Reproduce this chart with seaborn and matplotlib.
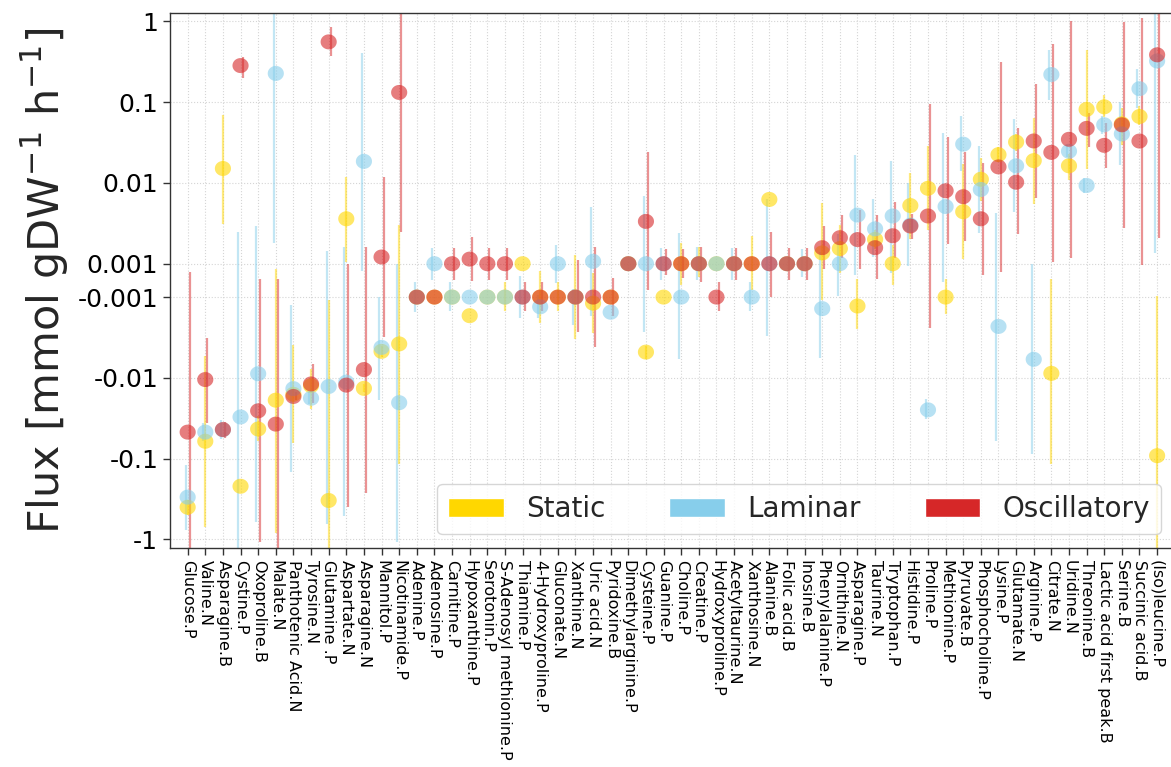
"""
Metabolite flux per condition on a symlog axis
"""

import numpy as np
import pandas as pd
import matplotlib
matplotlib.use("Agg")
import matplotlib.pyplot as plt
import seaborn as sns
from matplotlib.patches import Patch
from matplotlib.ticker import NullLocator


metabolites = [
    "Glucose.P", "Valine.N", "Asparagine.B", "Cystine.P", "Oxoproline.B",
    "Malate.N", "Panthotenic Acid.N", "Tyrosine.N", "Glutamine .P",
    "Aspartate.N", "Asparagine.N", "Mannitol.P", "Nicotinamide.P",
    "Adenine.P", "Adenosine.P", "Carnitine.P", "Hypoxanthine.P",
    "Serotonin.P", "S-Adenosyl methionine.P", "Thiamine.P",
    "4-Hydroxyproline.P", "Gluconate.N", "Xanthine.N", "Uric acid.N",
    "Pyridoxine.B", "Dimethylarginine.P", "Cysteine.P", "Guanine.P",
    "Choline.P", "Creatine.P", "Hydroxyproline.P", "Acetyltaurine.N",
    "Xanthosine.N", "Alanine.B", "Folic acid.B", "Inosine.B",
    "Phenylalanine.P", "Ornithine.N", "Asparagine.P", "Taurine.N",
    "Tryptophan.P", "Histidine.P", "Proline.P", "Methionine.P",
    "Pyruvate.B", "Phosphocholine.P", "Lysine.P", "Glutamate.N",
    "Arginine.P", "Citrate.N", "Uridine.N", "Threonine.B",
    "Lactic acid first peak.B", "Serine.B", "Succinic acid.B",
    "(Iso)leucine.P",
]

# mean flux and error bar bounds [mmol gDW-1 h-1]
static = [-0.40, -0.061, 0.0151, -0.22, -0.043, -0.0189, -0.016, -0.0125, -0.33,
          0.0036, -0.0135, -0.0047, -0.0038, -0.001, -0.001, -0.001, -0.0017,
          -0.001, -0.001, 0.001, -0.001, -0.001, -0.001, -0.00119, -0.001, 0.001,
          -0.0048, -0.001, 0.001, 0.001, 0.001, 0.001, 0.001, 0.00625, 0.001,
          0.001, 0.00136, 0.00154, -0.00129, 0.002, 0.001, 0.00525, 0.00858,
          -0.001, 0.0044, 0.0111, 0.0224, 0.0321, 0.0189, -0.0088, 0.0163,
          0.0815, 0.0876, 0.054, 0.0665, -0.092]
static_lo = [-0.50, -0.71, 0.0031, -0.22, -0.06, -0.83, -0.064, -0.024, -2.0,
             0.00105, -0.015, -0.0055, -0.116, -0.001, -0.001, -0.001, -0.0017,
             -0.001, -0.0015, 0.001, -0.0021, -0.0015, -0.0033, -0.0028, -0.001,
             0.001, -0.0058, -0.001, -0.00029, 0.0002, 0.001, 0.001, -0.0006,
             0.00625, 0.001, 0.001, -0.0011, 0.00046, -0.0025, 0.0015, -0.00029,
             0.002, 0.0026, -0.0016, 0.00114, 0.006, 0.018, 0.025, 0.0055,
             -0.118, 0.011, 0.0147, 0.066, 0.0292, 0.0515, -2.0]
static_hi = [-0.33, -0.0054, 0.07, -0.22, -0.03, 0.00068, -0.0039, -0.0077, -0.0011,
             0.012, -0.012, -0.004, 0.003, -0.001, -0.001, -0.001, -0.0017,
             -0.001, -0.0001, 0.001, 0.00058, -0.0001, 0.0013, 0.00046, -0.001,
             0.001, -0.004, -0.001, 0.0018, 0.0016, 0.001, 0.001, 0.0022,
             0.00625, 0.001, 0.001, 0.0057, 0.003, 0.00008, 0.0026, 0.0017,
             0.0132, 0.0283, 0.00008, 0.0171, 0.0205, 0.028, 0.04, 0.063,
             0.00008, 0.0226, 0.44, 0.123, 0.0855, 0.09, -0.00094]

laminar = [-0.30, -0.047, -0.044, -0.0305, -0.0089, 0.227, -0.0136, -0.0179,
           -0.0128, -0.0113, 0.0185, -0.0042, -0.0203, -0.001, 0.001, -0.001,
           -0.001, -0.001, -0.001, -0.001, -0.00132, 0.001, -0.001, 0.00107,
           -0.00154, 0.001, 0.001, 0.001, -0.001, 0.001, 0.001, 0.001, -0.001,
           0.001, 0.001, 0.001, -0.00139, 0.001, 0.004, 0.0027, 0.0039, 0.003,
           -0.0249, 0.0051, 0.0302, 0.0083, -0.00231, 0.0163, -0.0059, 0.22,
           0.0247, 0.0093, 0.0525, 0.0405, 0.147, 0.324]
laminar_lo = [-0.77, -0.06, -0.058, -2.0, -0.61, 0.0018, -0.146, -0.021, -0.64,
              -0.52, 0.00057, -0.0188, -1.07, -0.00154, 0.00003, -0.0015,
              -0.001, -0.001, -0.001, -0.0018, -0.0018, -0.00018, -0.0022,
              -0.0017, -0.00154, 0.001, -0.0027, 0.00003, -0.0058, 0.0, 0.001,
              0.00003, -0.0015, -0.003, 0.001, 0.0002, -0.0057, -0.00093,
              0.00035, 0.0012, 0.00046, 0.00089, -0.032, -0.00008, 0.0139,
              0.0024, -0.06, 0.0044, -0.088, 0.107, 0.0208, 0.0075, 0.04,
              0.0166, 0.0855, 0.00136]
laminar_hi = [-0.12, -0.036, -0.033, 0.0025, 0.0029, 2.0, -0.00125, -0.015, 0.00143,
              0.00159, 0.406, -0.001, 0.001, -0.000075, 0.00155, -0.0001,
              -0.001, -0.001, -0.001, 0.00025, -0.00086, 0.0017, -0.0005, 0.005,
              -0.00154, 0.001, 0.0068, 0.00155, 0.0024, 0.0016, 0.001, 0.00155,
              -0.0001, 0.00625, 0.001, 0.0015, 0.0014, 0.0023, 0.022, 0.0063,
              0.0188, 0.01, -0.0185, 0.042, 0.0665, 0.0284, 0.0043, 0.062, 0.001,
              0.44, 0.0294, 0.0115, 0.067, 0.1, 0.256, 2.0]

oscillatory = [-0.047, -0.0105, -0.0437, 0.284, -0.0256, -0.0374, -0.017, -0.0119,
               0.558, -0.0123, -0.0079, 0.00121, 0.132, -0.001, -0.001, 0.001,
               0.00114, 0.001, 0.001, -0.001, -0.001, -0.001, -0.001, -0.001,
               -0.001, 0.001, 0.00334, 0.001, 0.001, 0.001, -0.001, 0.001, 0.001,
               0.001, 0.001, 0.001, 0.00158, 0.0021, 0.00199, 0.00158, 0.00222,
               0.00293, 0.0039, 0.008, 0.00676, 0.0036, 0.0158, 0.0102, 0.0331,
               0.0239, 0.0347, 0.0474, 0.0292, 0.0525, 0.033, 0.386]
oscillatory_lo = [-2.0, -0.036, -0.055, 0.2, -1.07, -2.0, -0.019, -0.0205, 0.37,
                  -0.4, -0.27, -0.0031, 0.00244, -0.001, -0.001, 0.00003,
                  -0.00003, 0.00003, 0.00003, -0.0015, -0.0015, -0.001, -0.0027,
                  -0.0041, -0.0017, 0.001, -0.00057, 0.00035, 0.00014, -0.0001,
                  -0.0015, 0.00003, 0.001, -0.001, 0.00003, 0.00003, 0.00068,
                  0.00116, 0.00068, 0.00008, 0.00116, 0.002, -0.0024, 0.00176,
                  0.0019, 0.00031, 0.0005, 0.0023, 0.0065, 0.00105, 0.00116,
                  0.0278, 0.0154, 0.0028, 0.00095, 0.0021]
oscillatory_hi = [0.0005, -0.0032, -0.035, 0.36, 0.000075, 0.000075, -0.015, -0.0068,
                  0.85, 0.001, 0.00162, 0.0117, 2.0, -0.001, -0.001, 0.00155,
                  0.00215, 0.00155, 0.00155, -0.0001, -0.0001, -0.001, 0.0011,
                  0.00162, 0.00012, 0.001, 0.0244, 0.0015, 0.0015, 0.0016,
                  -0.0001, 0.00155, 0.001, 0.0025, 0.00155, 0.00155, 0.0029,
                  0.004, 0.0046, 0.004, 0.0058, 0.0041, 0.095, 0.037, 0.0239,
                  0.0176, 0.315, 0.048, 0.167, 0.53, 1.02, 0.073, 0.056, 0.98,
                  1.1, 2.0]

conditions = ["Static", "Laminar", "Oscillatory"]
palette = {"Static": "#FFD700", "Laminar": "#87CEEB", "Oscillatory": "#D62728"}
err_shift = {"Static": 0.0, "Laminar": -0.12, "Oscillatory": 0.12}

series = {
    "Static": (static, static_lo, static_hi),
    "Laminar": (laminar, laminar_lo, laminar_hi),
    "Oscillatory": (oscillatory, oscillatory_lo, oscillatory_hi),
}

frames = []
for cond in conditions:
    mean, lo, hi = series[cond]
    frames.append(pd.DataFrame({
        "pos": np.arange(len(metabolites)),
        "metabolite": metabolites,
        "condition": cond,
        "flux": mean,
        "lo": lo,
        "hi": hi,
    }))
df = pd.concat(frames, ignore_index=True)

sns.set_style("ticks")

fig = plt.figure(figsize=(11.71, 7.67), dpi=100)
ax = fig.add_axes([0.1452, 0.2855, 0.858, 0.6975])

# error bars first, points on top
for cond in conditions:
    sub = df[df["condition"] == cond]
    ax.vlines(sub["pos"] + err_shift[cond], sub["lo"], sub["hi"],
              color=palette[cond], alpha=0.5, linewidth=1.6, zorder=2)

t = np.linspace(0, 2 * np.pi, 60)
ellipse = np.column_stack([np.cos(t), 0.93 * np.sin(t)])

sns.scatterplot(data=df, x="pos", y="flux", hue="condition",
                hue_order=conditions, palette=palette, marker=ellipse,
                s=135, alpha=0.6, linewidth=0, edgecolor="none",
                legend=False, ax=ax, zorder=3)

ax.set_yscale("symlog", linthresh=1e-3, linscale=0.186)
ax.set_ylim(-1.28, 1.27)
ax.set_xlim(-1, 56)

yt = [-1, -0.1, -0.01, -0.001, 0.001, 0.01, 0.1, 1]
ax.set_yticks(yt, ["-1", "-0.1", "-0.01", "-0.001", "0.001", "0.01", "0.1", "1"],
              fontsize=18)
ax.yaxis.set_minor_locator(NullLocator())
ax.set_xticks(np.arange(len(metabolites)))
ax.set_xticklabels(metabolites, rotation=270, fontsize=11.5,
                   ha="center", va="top")

ax.set_xlabel("")
ax.set_ylabel("Flux [mmol gDW$^{-1}$ h$^{-1}$]", fontsize=31, labelpad=5)

ax.grid(True, linestyle=":", color="#d5d5d5", linewidth=0.8)
ax.set_axisbelow(True)
for sp in ax.spines.values():
    sp.set_color("#333333")
    sp.set_linewidth(1.0)
ax.tick_params(direction="out", length=5, width=1, color="#333333",
               labelcolor="black")

handles = [Patch(facecolor=palette[c], label=c) for c in conditions]
ax.legend(handles=handles, loc="lower right", ncol=3, fontsize=20,
          columnspacing=2.3)

fig.savefig("out.png", dpi=100)
